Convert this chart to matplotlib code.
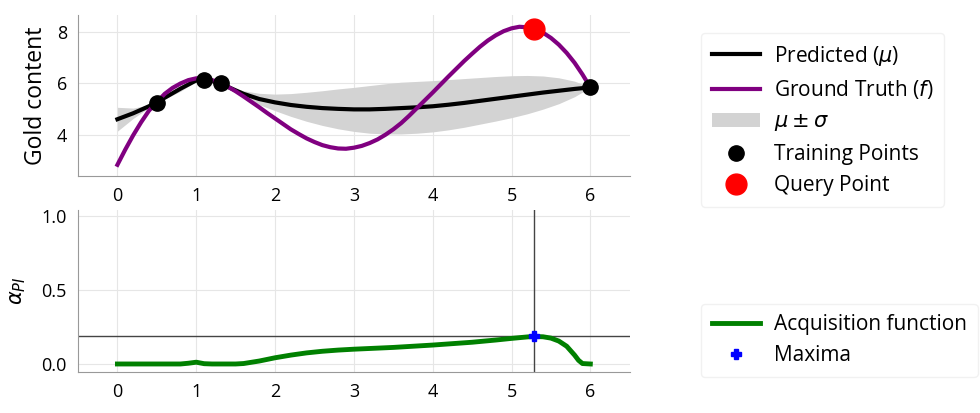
import matplotlib
matplotlib.use("Agg")
import matplotlib.pyplot as plt

plt.rcParams['font.family'] = ['Open Sans', 'DejaVu Sans']
plt.rcParams['mathtext.fontset'] = 'dejavusans'

# surrogate model on a 0.2 grid
grid_x = [0.0, 0.2, 0.4, 0.6, 0.8, 1.0, 1.2, 1.4, 1.6, 1.8, 2.0, 2.2, 2.4, 2.6, 2.8, 3.0,
          3.2, 3.4, 3.6, 3.8, 4.0, 4.2, 4.4, 4.6, 4.8, 5.0, 5.2, 5.4, 5.6, 5.8, 6.0]
mu = [4.62, 4.85, 5.12, 5.45, 5.8, 6.12, 6.1, 5.87, 5.6, 5.4, 5.27, 5.17, 5.1, 5.05, 5.02, 5.0,
      5.0, 5.02, 5.05, 5.08, 5.12, 5.18, 5.25, 5.33, 5.41, 5.49, 5.57, 5.65, 5.72, 5.79, 5.85]
sigma = [0.46, 0.2, 0.05, 0.05, 0.1, 0.04, 0.0, 0.03, 0.12, 0.22, 0.32, 0.44, 0.56, 0.67, 0.77, 0.85,
         0.92, 0.97, 1.0, 1.0, 0.99, 0.97, 0.94, 0.9, 0.86, 0.81, 0.74, 0.64, 0.5, 0.3, 0.0]

# ground truth on a 0.1 grid
truth_x = [i / 10 for i in range(61)]
truth = [2.86, 3.45, 4.0, 4.5, 4.95, 5.28, 5.6, 5.83, 6.0, 6.13,
         6.2, 6.19, 6.13, 6.03, 5.88, 5.7, 5.5, 5.29, 5.08, 4.86,
         4.65, 4.44, 4.23, 4.05, 3.88, 3.74, 3.62, 3.54, 3.49, 3.48,
         3.52, 3.59, 3.7, 3.84, 4.02, 4.23, 4.47, 4.75, 5.05, 5.35,
         5.65, 5.96, 6.27, 6.57, 6.87, 7.15, 7.42, 7.66, 7.86, 8.02,
         8.13, 8.19, 8.17, 8.1, 7.96, 7.76, 7.5, 7.18, 6.8, 6.35,
         5.85]

train_x = [0.5, 1.1, 1.32, 6.0]
train_y = [5.25, 6.15, 6.0, 5.85]
query_x = 5.28
query_y = 8.1

# probability of improvement
acq_x = [0.0, 0.8, 0.9, 1.0, 1.1, 1.2, 1.5, 1.6, 1.8, 2.0, 2.2, 2.4, 2.6, 2.8, 3.0, 3.5, 4.0,
         4.5, 4.8, 5.0, 5.2, 5.28, 5.4, 5.5, 5.6, 5.7, 5.8, 5.85, 5.9, 6.0]
acq_y = [0.0, 0.0, 0.005, 0.012, 0.002, 0.0, 0.0, 0.003, 0.02, 0.042, 0.06, 0.075, 0.086, 0.094,
         0.10, 0.112, 0.128, 0.147, 0.162, 0.173, 0.183, 0.186, 0.184, 0.175, 0.155, 0.12, 0.06,
         0.025, 0.003, 0.0]
max_x = 5.28
max_y = 0.186

fig = plt.figure(figsize=(9.8, 4.13), dpi=100)
ax1 = fig.add_axes([0.0796, 0.574, 0.563, 0.39])
ax2 = fig.add_axes([0.0796, 0.099, 0.563, 0.392])

lower = [m - s for m, s in zip(mu, sigma)]
upper = [m + s for m, s in zip(mu, sigma)]
ax1.fill_between(grid_x, lower, upper, color='#d3d3d3', lw=0, label=r'$\mu \pm \sigma$')
ax1.plot(grid_x, mu, color='black', lw=3, label=r'Predicted ($\mu$)')
ax1.plot(truth_x, truth, color='purple', lw=3, label=r'Ground Truth ($f$)')
ax1.plot(train_x, train_y, 'o', color='black', ms=11, label='Training Points', zorder=5)
ax1.plot(query_x, query_y, 'o', color='red', ms=15, label='Query Point', zorder=5)
ax1.set_xlim(-0.5, 6.5)
ax1.set_ylim(2.43, 8.65)
ax1.set_yticks([4, 6, 8])
ax1.set_ylabel('Gold content', fontsize=16.5, labelpad=6)

ax2.axvline(max_x, color='#444444', lw=1)
ax2.axhline(max_y, color='#444444', lw=1)
ax2.plot(acq_x, acq_y, color='green', lw=3.5, label='Acquisition function')
ax2.plot(max_x, max_y, 'P', color='blue', ms=7, label='Maxima', zorder=5)
ax2.set_xlim(-0.5, 6.5)
ax2.set_ylim(-0.055, 1.04)
ax2.set_yticks([0.0, 0.5, 1.0])
ax2.set_ylabel(r'$\alpha_{PI}$', fontsize=15, labelpad=10)

for ax in (ax1, ax2):
    ax.set_xticks(range(7))
    ax.grid(True, color='#e6e6e6', lw=0.8)
    ax.set_axisbelow(True)
    for side in ('top', 'right'):
        ax.spines[side].set_visible(False)
    for side in ('left', 'bottom'):
        ax.spines[side].set_color('#999999')
    ax.tick_params(labelsize=13, length=0, pad=8)

leg_style = dict(loc='upper left', fontsize=15, frameon=True, edgecolor='#eeeeee',
                 handlelength=2.3, borderpad=0.5, labelspacing=0.5, handletextpad=0.7)
h, lab = ax1.get_legend_handles_labels()
order = [1, 2, 0, 3, 4]
fig.legend([h[i] for i in order], [lab[i] for i in order],
           bbox_to_anchor=(0.705, 0.945), **leg_style)
fig.legend(*ax2.get_legend_handles_labels(), bbox_to_anchor=(0.705, 0.29), **leg_style)

fig.savefig('out.png', dpi=100)
